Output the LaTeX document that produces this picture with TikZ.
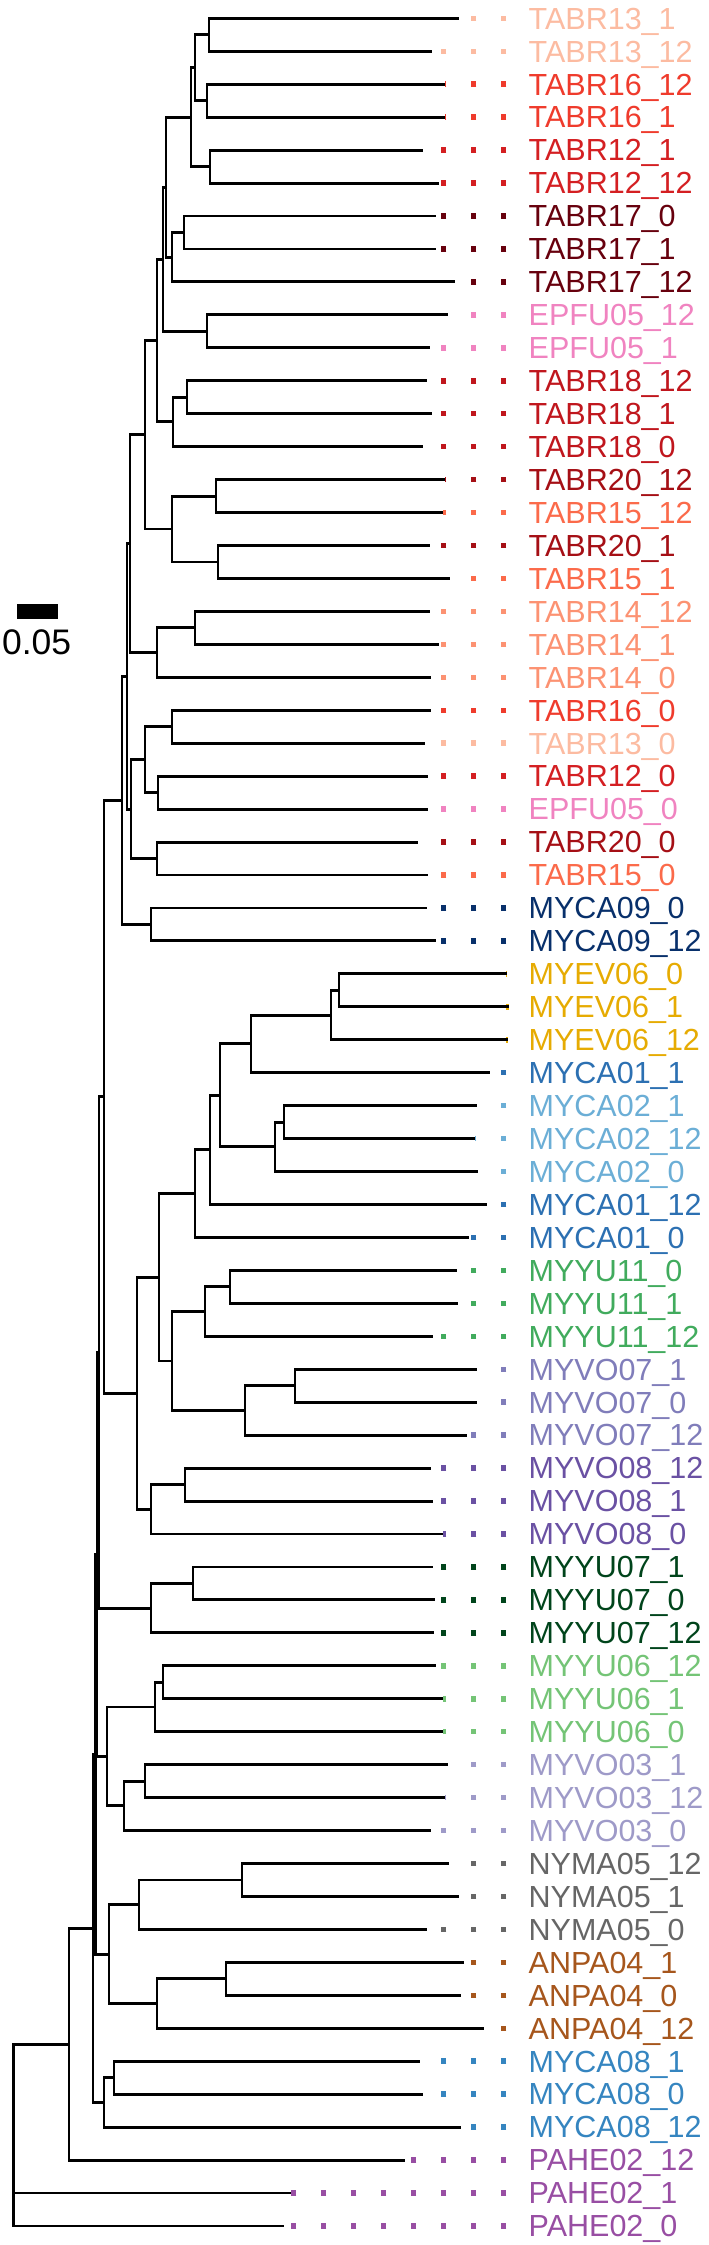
\documentclass[tikz,border=0pt]{standalone}
\usepackage{fontspec}
\setmainfont{Liberation Sans}
\definecolor{cTABR13}{HTML}{FCBBA1}
\definecolor{cTABR14}{HTML}{FC9272}
\definecolor{cTABR15}{HTML}{FB6A4A}
\definecolor{cTABR16}{HTML}{EF3B2C}
\definecolor{cTABR12}{HTML}{D41F22}
\definecolor{cTABR18}{HTML}{C0161D}
\definecolor{cTABR20}{HTML}{A50F15}
\definecolor{cTABR17}{HTML}{67000D}
\definecolor{cEPFU05}{HTML}{F083C0}
\definecolor{cMYCA09}{HTML}{08306B}
\definecolor{cMYEV06}{HTML}{E6AB02}
\definecolor{cMYCA01}{HTML}{2C70B2}
\definecolor{cMYCA02}{HTML}{6BAED6}
\definecolor{cMYCA08}{HTML}{3585C0}
\definecolor{cMYYU11}{HTML}{41AB5D}
\definecolor{cMYYU07}{HTML}{00441B}
\definecolor{cMYYU06}{HTML}{74C476}
\definecolor{cMYVO07}{HTML}{807DBA}
\definecolor{cMYVO08}{HTML}{6A51A3}
\definecolor{cMYVO03}{HTML}{9E9AC8}
\definecolor{cNYMA05}{HTML}{666666}
\definecolor{cANPA04}{HTML}{A6561C}
\definecolor{cPAHE02}{HTML}{984EA3}

\begin{document}
\begin{tikzpicture}[line cap=butt,line join=miter,x=1pt,y=-32.95pt,
	branch/.style={line width=2.9pt},
	tipdots/.style={line width=5.5pt,dash pattern=on 5.5pt off 24.5pt},
	leaflab/.style={anchor=base west,inner sep=0pt,yshift=-10.8pt,font=\fontsize{30.5}{36}\selectfont},
	scalelab/.style={anchor=base,inner sep=0pt,font=\fontsize{35.5}{40}\selectfont}]
	\useasboundingbox (0,0.4446) rectangle (709,68.578);
	% tips, dotted leaders and labels
	\foreach \tx/\lab/\col [count=\i] in {
		459/TABR13\_1/cTABR13, 432/TABR13\_12/cTABR13, 445/TABR16\_12/cTABR16, 445/TABR16\_1/cTABR16,
		423/TABR12\_1/cTABR12, 439/TABR12\_12/cTABR12, 436/TABR17\_0/cTABR17, 436/TABR17\_1/cTABR17,
		455/TABR17\_12/cTABR17, 448/EPFU05\_12/cEPFU05, 430/EPFU05\_1/cEPFU05, 427/TABR18\_12/cTABR18,
		432/TABR18\_1/cTABR18, 423/TABR18\_0/cTABR18, 445/TABR20\_12/cTABR20, 443/TABR15\_12/cTABR15,
		430/TABR20\_1/cTABR20, 450/TABR15\_1/cTABR15, 430/TABR14\_12/cTABR14, 439/TABR14\_1/cTABR14,
		431/TABR14\_0/cTABR14, 431/TABR16\_0/cTABR16, 425/TABR13\_0/cTABR13, 428/TABR12\_0/cTABR12,
		428/EPFU05\_0/cEPFU05, 418/TABR20\_0/cTABR20, 428/TABR15\_0/cTABR15, 427/MYCA09\_0/cMYCA09,
		436/MYCA09\_12/cMYCA09, 507/MYEV06\_0/cMYEV06, 509/MYEV06\_1/cMYEV06, 508/MYEV06\_12/cMYEV06,
		490/MYCA01\_1/cMYCA01, 477/MYCA02\_1/cMYCA02, 475/MYCA02\_12/cMYCA02, 478/MYCA02\_0/cMYCA02,
		487/MYCA01\_12/cMYCA01, 469/MYCA01\_0/cMYCA01, 457/MYYU11\_0/cMYYU11, 458/MYYU11\_1/cMYYU11,
		433/MYYU11\_12/cMYYU11, 477/MYVO07\_1/cMYVO07, 477/MYVO07\_0/cMYVO07, 467/MYVO07\_12/cMYVO07,
		431/MYVO08\_12/cMYVO08, 433/MYVO08\_1/cMYVO08, 443/MYVO08\_0/cMYVO08, 433/MYYU07\_1/cMYYU07,
		435/MYYU07\_0/cMYYU07, 434/MYYU07\_12/cMYYU07, 436/MYYU06\_12/cMYYU06, 443/MYYU06\_1/cMYYU06,
		443/MYYU06\_0/cMYYU06, 448/MYVO03\_1/cMYVO03, 445/MYVO03\_12/cMYVO03, 431/MYVO03\_0/cMYVO03,
		449/NYMA05\_12/cNYMA05, 459/NYMA05\_1/cNYMA05, 427/NYMA05\_0/cNYMA05, 464/ANPA04\_1/cANPA04,
		461/ANPA04\_0/cANPA04, 484/ANPA04\_12/cANPA04, 420/MYCA08\_1/cMYCA08, 423/MYCA08\_0/cMYCA08,
		461/MYCA08\_12/cMYCA08, 405/PAHE02\_12/cPAHE02, 291/PAHE02\_1/cPAHE02, 284/PAHE02\_0/cPAHE02}{
		\coordinate (t\i) at (\tx,\i);
		\draw[tipdots,color=\col] (506.35,\i) -- (t\i);
		\node[leaflab,text=\col] (lab\i) at (528.5,\i) {\lab};
	}
	% internal nodes
	\coordinate (nA) at (209,1.5);
	\coordinate (nB) at (207,3.5);
	\coordinate (nAB) at (195,2.5);
	\coordinate (nC) at (210,5.5);
	\coordinate (nCi) at (191,4);
	\coordinate (nD) at (184,7.5);
	\coordinate (nCii) at (172,8.25);
	\coordinate (nG) at (166,6.125);
	\coordinate (nCiii) at (207,10.5);
	\coordinate (nH) at (163,8.3125);
	\coordinate (nHH) at (187,12.5);
	\coordinate (nCiv) at (173,13.25);
	\coordinate (nI) at (157,10.78125);
	\coordinate (nK) at (216,15.5);
	\coordinate (nL) at (218,17.5);
	\coordinate (nCv) at (172,16.5);
	\coordinate (nJ) at (145,13.640625);
	\coordinate (nM) at (195,19.5);
	\coordinate (nCvi) at (157,20.25);
	\coordinate (nZ) at (130,16.9453);
	\coordinate (nN) at (172,22.5);
	\coordinate (nO) at (158,24.5);
	\coordinate (nCvii) at (145,23.5);
	\coordinate (nP) at (157,26.5);
	\coordinate (nCviii) at (131,25);
	\coordinate (nY) at (127,20.9727);
	\coordinate (nQ) at (151,28.5);
	\coordinate (nR) at (122,24.7363);
	\coordinate (nT) at (339,30.5);
	\coordinate (nTT) at (331,31.25);
	\coordinate (nU) at (251,32.125);
	\coordinate (nV) at (284,34.5);
	\coordinate (nVV) at (275,35.25);
	\coordinate (nUV) at (220,33.6875);
	\coordinate (nW) at (210,35.34375);
	\coordinate (nWW) at (195,36.671875);
	\coordinate (nX) at (230,39.5);
	\coordinate (nXX) at (205,40.25);
	\coordinate (nYs) at (295,42.5);
	\coordinate (nYY) at (245,43.25);
	\coordinate (nXY) at (172,41.75);
	\coordinate (nWXY) at (159,39.2109);
	\coordinate (nZe) at (185,45.5);
	\coordinate (nZZ) at (151,46.25);
	\coordinate (nGi) at (137,42.7305);
	\coordinate (nUG) at (104,33.7334);
	\coordinate (nAA) at (193,48.5);
	\coordinate (nAAA) at (151,49.25);
	\coordinate (nNii) at (99,41.4917);
	\coordinate (nS) at (163,51.5);
	\coordinate (nSS) at (155,52.25);
	\coordinate (nAC) at (145,54.5);
	\coordinate (nACC) at (124,55.25);
	\coordinate (nSix) at (107,53.75);
	\coordinate (nNiii) at (97,47.6208);
	\coordinate (nAD) at (242,57.5);
	\coordinate (nADD) at (139,58.25);
	\coordinate (nAE) at (226,60.5);
	\coordinate (nAEE) at (157,61.25);
	\coordinate (nSeven) at (109,59.75);
	\coordinate (nNiv) at (95.5,53.6854);
	\coordinate (nAF) at (114,63.5);
	\coordinate (nAFF) at (104,64.25);
	\coordinate (nNv) at (93,58.9677);
	\coordinate (nNvi) at (69,62.4839);
	\coordinate (root) at (13.6,65.24);
	% branches
	\foreach \p/\c in {nA/t1, nA/t2, nB/t3, nB/t4, nAB/nA, nAB/nB, nC/t5, nC/t6, nCi/nAB, nCi/nC,
		nD/t7, nD/t8, nCii/nD, nCii/t9, nG/nCi, nG/nCii, nCiii/t10, nCiii/t11, nH/nG, nH/nCiii,
		nHH/t12, nHH/t13, nCiv/nHH, nCiv/t14, nI/nH, nI/nCiv,
		nK/t15, nK/t16, nL/t17, nL/t18, nCv/nK, nCv/nL, nJ/nI, nJ/nCv,
		nM/t19, nM/t20, nCvi/nM, nCvi/t21, nZ/nJ, nZ/nCvi,
		nN/t22, nN/t23, nO/t24, nO/t25, nCvii/nN, nCvii/nO, nP/t26, nP/t27,
		nCviii/nCvii, nCviii/nP, nY/nZ, nY/nCviii, nQ/t28, nQ/t29, nR/nY, nR/nQ,
		nT/t30, nT/t31, nTT/nT, nTT/t32, nU/nTT, nU/t33, nV/t34, nV/t35, nVV/nV, nVV/t36,
		nUV/nU, nUV/nVV, nW/nUV, nW/t37, nWW/nW, nWW/t38,
		nX/t39, nX/t40, nXX/nX, nXX/t41, nYs/t42, nYs/t43, nYY/nYs, nYY/t44,
		nXY/nXX, nXY/nYY, nWXY/nWW, nWXY/nXY,
		nZe/t45, nZe/t46, nZZ/nZe, nZZ/t47, nGi/nWXY, nGi/nZZ, nUG/nR, nUG/nGi,
		nAA/t48, nAA/t49, nAAA/nAA, nAAA/t50, nNii/nUG, nNii/nAAA,
		nS/t51, nS/t52, nSS/nS, nSS/t53, nAC/t54, nAC/t55, nACC/nAC, nACC/t56,
		nSix/nSS, nSix/nACC, nNiii/nNii, nNiii/nSix,
		nAD/t57, nAD/t58, nADD/nAD, nADD/t59, nAE/t60, nAE/t61, nAEE/nAE, nAEE/t62,
		nSeven/nADD, nSeven/nAEE, nNiv/nNiii, nNiv/nSeven,
		nAF/t63, nAF/t64, nAFF/nAF, nAFF/t65, nNv/nNiv, nNv/nAFF,
		nNvi/nNv, nNvi/t66, root/nNvi, root/t67, root/t68}
		\draw[branch] (\p) |- (\c);
	% scale bar
	\fill (17.3,18.79) rectangle (57.5,19.216);
	\node[scalelab] (scale) at (36.6,20.32) {0.05};
\end{tikzpicture}
\end{document}
